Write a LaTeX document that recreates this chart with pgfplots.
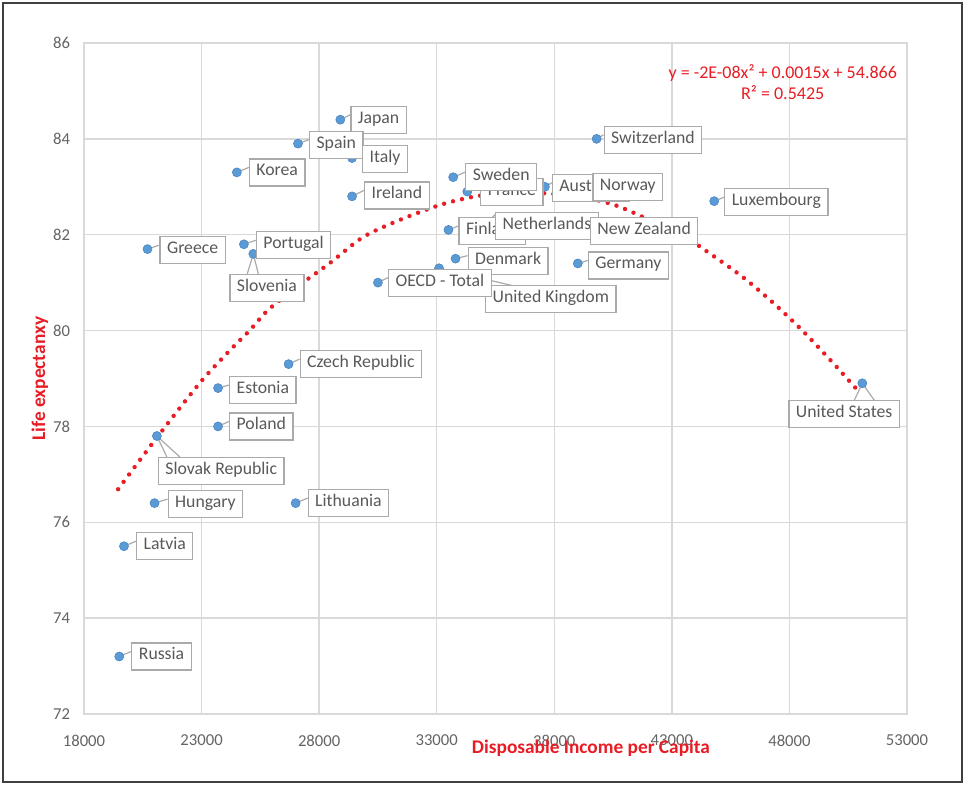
\documentclass[border=0pt]{standalone}
\usepackage{fontspec}
\setmainfont{Carlito}
\usepackage{pgfplots}
\usepackage{pgfplotstable}
\pgfplotsset{compat=1.18}

\definecolor{dotblue}{RGB}{91,155,213}
\definecolor{dotedge}{RGB}{70,130,195}
\definecolor{trendred}{RGB}{232,28,36}
\definecolor{txtgray}{RGB}{89,89,89}
\definecolor{tickgray}{RGB}{100,100,100}
\definecolor{boxgray}{RGB}{170,170,170}
\definecolor{gridgray}{RGB}{217,217,217}

% countries: income, life expectancy, label box offset (top-left corner, px from the point, y downwards)
\pgfplotstableread[col sep=comma]{
x,y,dx,dy,label
28900,84.4,10,-14,Japan
27100,83.9,11,-13,Spain
29400,83.6,10,-13,Italy
24500,83.3,12,-14,Korea
29400,82.8,12,-15,Ireland
20700,81.7,12,-13,Greece
24800,81.8,12,-13,Portugal
25200,81.6,-24,20,Slovenia
34300,82.9,13,-14,France
33700,83.2,12,-14,Sweden
37600,83.0,7,-13,Australia
38300,82.9,31,-19,Norway
33500,82.1,10,-13,Finland
34800,82.1,16,-18,Netherlands
39000,82.1,12,-13,New Zealand
33800,81.5,12,-12,Denmark
39000,81.4,10,-12,Germany
33100,81.3,46,17,United Kingdom
30500,81.0,10,-14,OECD - Total
39800,84.0,7,-13,Switzerland
44800,82.7,10,-13,Luxembourg
51100,78.9,-74,17,United States
26700,79.3,11,-14,Czech Republic
23700,78.8,11,-12,Estonia
23700,78.0,11,-14,Poland
21100,77.8,1,21,Slovak Republic
21000,76.4,13,-13,Hungary
27000,76.4,12,-14,Lithuania
19700,75.5,12,-14,Latvia
19500,73.2,12,-14,Russia
}\countrytab

% callout leader lines: point, offset of the far end in px (y downwards),
% e = 0 start / 1 end, nan rows break the path
\pgfplotstableread{
x y u v e
28900 84.4 10 -5 0
28900 84.4 10 -5 1
nan nan 0 0 0
27100 83.9 11 -4 0
27100 83.9 11 -4 1
nan nan 0 0 0
29400 83.6 10 -4 0
29400 83.6 10 -4 1
nan nan 0 0 0
24500 83.3 12 -5 0
24500 83.3 12 -5 1
nan nan 0 0 0
29400 82.8 12 -6 0
29400 82.8 12 -6 1
nan nan 0 0 0
20700 81.7 12 -4 0
20700 81.7 12 -4 1
nan nan 0 0 0
24800 81.8 12 -4 0
24800 81.8 12 -4 1
nan nan 0 0 0
25200 81.6 -6 20 1
25200 81.6 0 0 0
25200 81.6 5 20 1
nan nan 0 0 0
34300 82.9 13 -5 0
34300 82.9 13 -5 1
nan nan 0 0 0
33700 83.2 12 -5 0
33700 83.2 12 -5 1
nan nan 0 0 0
37600 83.0 7 -4 0
37600 83.0 7 -4 1
nan nan 0 0 0
38300 82.9 31 -10 0
38300 82.9 31 -10 1
nan nan 0 0 0
33500 82.1 10 -4 0
33500 82.1 10 -4 1
nan nan 0 0 0
34800 82.1 18 -17 0
34800 82.1 18 -17 1
nan nan 0 0 0
39000 82.1 12 -4 0
39000 82.1 12 -4 1
nan nan 0 0 0
33800 81.5 12 -3 0
33800 81.5 12 -3 1
nan nan 0 0 0
39000 81.4 10 -3 0
39000 81.4 10 -3 1
nan nan 0 0 0
33100 81.3 76 18 0
33100 81.3 76 18 1
nan nan 0 0 0
30500 81.0 10 -5 0
30500 81.0 10 -5 1
nan nan 0 0 0
39800 84.0 7 -4 0
39800 84.0 7 -4 1
nan nan 0 0 0
44800 82.7 10 -4 0
44800 82.7 10 -4 1
nan nan 0 0 0
51100 78.9 -8 17 1
51100 78.9 0 0 0
51100 78.9 12 17 1
nan nan 0 0 0
26700 79.3 11 -5 0
26700 79.3 11 -5 1
nan nan 0 0 0
23700 78.8 11 -3 0
23700 78.8 11 -3 1
nan nan 0 0 0
23700 78.0 11 -5 0
23700 78.0 11 -5 1
nan nan 0 0 0
21100 77.8 10 21 1
21100 77.8 0 0 0
21100 77.8 23 21 1
nan nan 0 0 0
21000 76.4 13 -4 0
21000 76.4 13 -4 1
nan nan 0 0 0
27000 76.4 12 -5 0
27000 76.4 12 -5 1
nan nan 0 0 0
19700 75.5 12 -5 0
19700 75.5 12 -5 1
nan nan 0 0 0
19500 73.2 12 -5 0
19500 73.2 12 -5 1
}\leadertab

% polynomial trendline (order 2)
\pgfplotstableread{
x y
19450 76.69
21150 77.80
22930 78.91
24210 79.59
25060 80.01
25830 80.43
27060 80.91
28460 81.41
29870 81.95
31440 82.31
33140 82.62
34540 82.79
36120 82.89
37390 82.87
39090 82.79
40790 82.58
43640 81.93
44200 81.75
45900 81.16
47170 80.64
48450 80.05
49730 79.39
51000 78.70
}\trendtab

\tikzset{
  callout/.style={draw=boxgray, fill=white, line width=0.9pt, text=txtgray,
    font=\fontsize{13.3}{16}\selectfont, inner xsep=5.25pt, inner ysep=0pt,
    minimum height=20.25pt, text height=0.75em, text depth=0.25em},
}

\begin{document}
\begin{tikzpicture}
\useasboundingbox (0,0) rectangle (723.75pt,588.75pt);
\draw[black!75, line width=1.1pt] (2.25pt,2.25pt) rectangle (721.5pt,586.5pt);
\begin{axis}[
  at={(63pt,53.25pt)}, anchor=south west,
  scale only axis, width=617.25pt, height=503.25pt,
  xmin=18000, xmax=53000, ymin=72, ymax=86,
  xtick={18000,23000,...,53000}, ytick={72,74,...,86},
  scaled x ticks=false,
  grid=major, major grid style={gridgray, line width=1pt},
  axis line style={gridgray, line width=1pt},
  major tick length=0pt,
  tick label style={font=\fontsize{12.5}{14}\selectfont, text=tickgray},
  /pgf/number format/assume math mode=true,
  /pgf/number format/1000 sep={},
  xticklabel style={yshift=-12pt},
  yticklabel style={xshift=-7pt},
  xlabel={Disposable Income per Capita},
  ylabel={Life expectanxy},
  label style={font=\fontsize{14.5}{16}\selectfont\bfseries, text=trendred},
  xlabel style={at={(axis description cs:0.616,-0.0507)}, anchor=center},
  ylabel style={at={(axis description cs:-0.0535,0.5)}, anchor=center},
]
% leader lines of the data callouts (823 px = 35000, 671 px = 14)
\addplot[boxgray, line width=0.9pt, mark=none, unbounded coords=jump]
  table[x expr={\thisrow{x}+\thisrow{e}*\thisrow{u}*42.527},
        y expr={\thisrow{y}-\thisrow{e}*\thisrow{v}*0.020864}] {\leadertab};
% data points
\addplot[only marks, mark=*, mark size=3.4pt,
  mark options={fill=dotblue, draw=dotedge, line width=0.4pt}]
  table[x=x, y=y] {\countrytab};
% callout boxes
\addplot[only marks, mark=none, point meta=explicit symbolic,
  nodes near coords,
  visualization depends on={\thisrow{dx}\as\offx},
  visualization depends on={\thisrow{dy}\as\offy},
  every node near coord/.append style={callout, anchor=north west,
    xshift={\offx*0.75pt}, yshift={-(\offy)*0.75pt}}]
  table[x=x, y=y, meta=label] {\countrytab};
% trendline
\addplot[trendred, line width=3.3pt, line cap=round,
  dash pattern=on 0pt off 6.9pt, smooth] table {\trendtab};
\node[text=trendred, font=\fontsize{13.5}{15.75}\selectfont, align=center]
  at (axis description cs:0.849,0.941)
  {y = -2E-08x² + 0.0015x + 54.866\\R² = 0.5425};
\end{axis}
\end{tikzpicture}
\end{document}
